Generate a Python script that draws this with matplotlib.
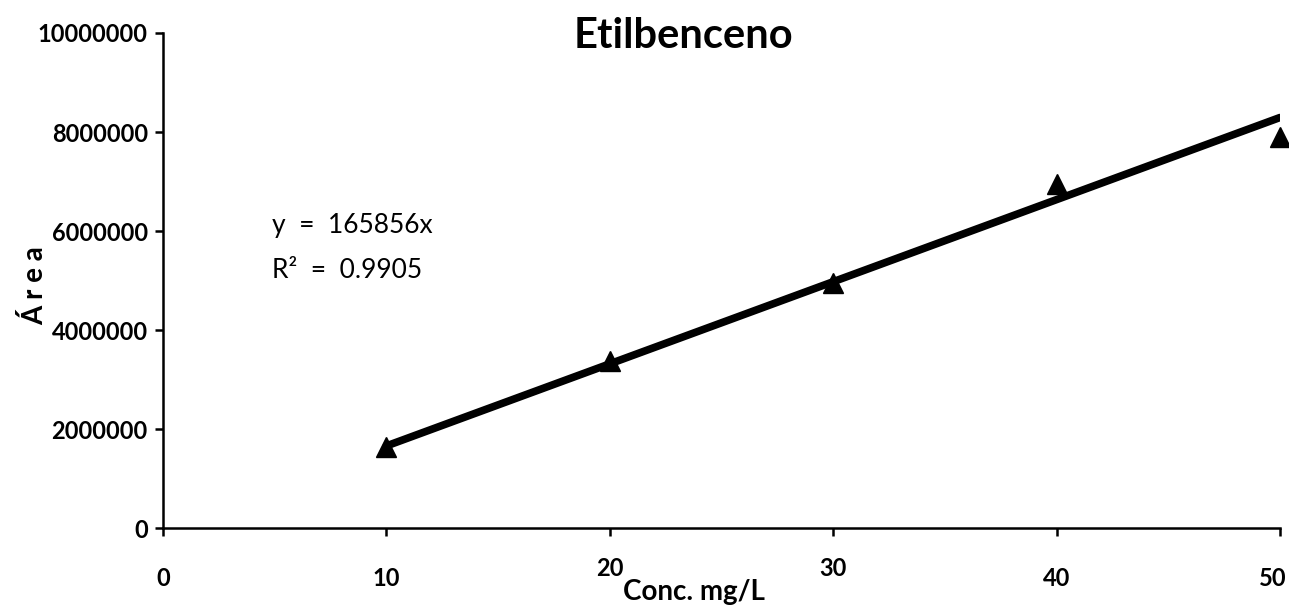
import numpy as np
import matplotlib
matplotlib.use("Agg")
import matplotlib.pyplot as plt
from matplotlib.transforms import ScaledTranslation

plt.rcParams['font.family'] = ['Lato', 'DejaVu Sans']

# datos de calibración
conc = [10, 20, 30, 40, 50]
area = [1640000, 3370000, 4950000, 6950000, 7900000]
pendiente = 165856
r2 = 0.9905

x_ticks = [0, 10, 20, 30, 40, 50]
y_ticks = [0, 2000000, 4000000, 6000000, 8000000, 10000000]

fig = plt.figure(figsize=(12.89, 6.11), dpi=100)
ax = fig.add_axes([0.1265, 0.1358, 0.993 - 0.1265, 0.946 - 0.1358])

# línea de tendencia
xl = np.array([conc[0], conc[-1]])
ax.plot(xl, pendiente * xl, color='black', lw=5.5, solid_capstyle='round', zorder=2)
ax.plot(conc, area, linestyle='none', marker='^', markersize=14,
        color='black', zorder=3, clip_on=False)

ax.set_xlim(0, 50)
ax.set_ylim(0, 10000000)
ax.set_xticks(x_ticks)
ax.set_yticks(y_ticks)
ax.set_xticklabels([str(v) for v in x_ticks])
ax.set_yticklabels([str(v) for v in y_ticks])

for s in ['top', 'right']:
    ax.spines[s].set_visible(False)
for s in ['left', 'bottom']:
    ax.spines[s].set_linewidth(1.8)

ax.tick_params(axis='both', direction='out', width=1.8, length=6,
               labelsize=17)
ax.tick_params(axis='x', pad=22)
ax.tick_params(axis='y', pad=5)
for lbl in ax.get_xticklabels() + ax.get_yticklabels():
    lbl.set_fontweight('bold')

# el 20 y el 30 quedan un poco más arriba; el 50 pegado al borde
for lbl in ax.get_xticklabels():
    t = lbl.get_text()
    if t in ('20', '30'):
        lbl.set_transform(lbl.get_transform() +
                          ScaledTranslation(0, 7 / 72, fig.dpi_scale_trans))
    elif t == '50':
        lbl.set_transform(lbl.get_transform() +
                          ScaledTranslation(-5 / 72, 0, fig.dpi_scale_trans))

fig.text(683 / 1289, 1 - 36 / 611, 'Etilbenceno', fontsize=30,
         fontweight='bold', ha='center', va='center')
ax.set_xlabel('Conc. mg/L', fontsize=20, fontweight='bold')
ax.xaxis.set_label_coords(0.475, -0.103)
ax.set_ylabel('Á r e a', fontsize=20, fontweight='bold')
ax.yaxis.set_label_coords(-0.103, 0.49)

fig.text(272 / 1289, 1 - 226 / 611, 'y  =  165856x', fontsize=19, va='center')
fig.text(272 / 1289, 1 - 271 / 611, 'R²  =  0.9905', fontsize=19, va='center')

fig.savefig('out.png', dpi=100)
